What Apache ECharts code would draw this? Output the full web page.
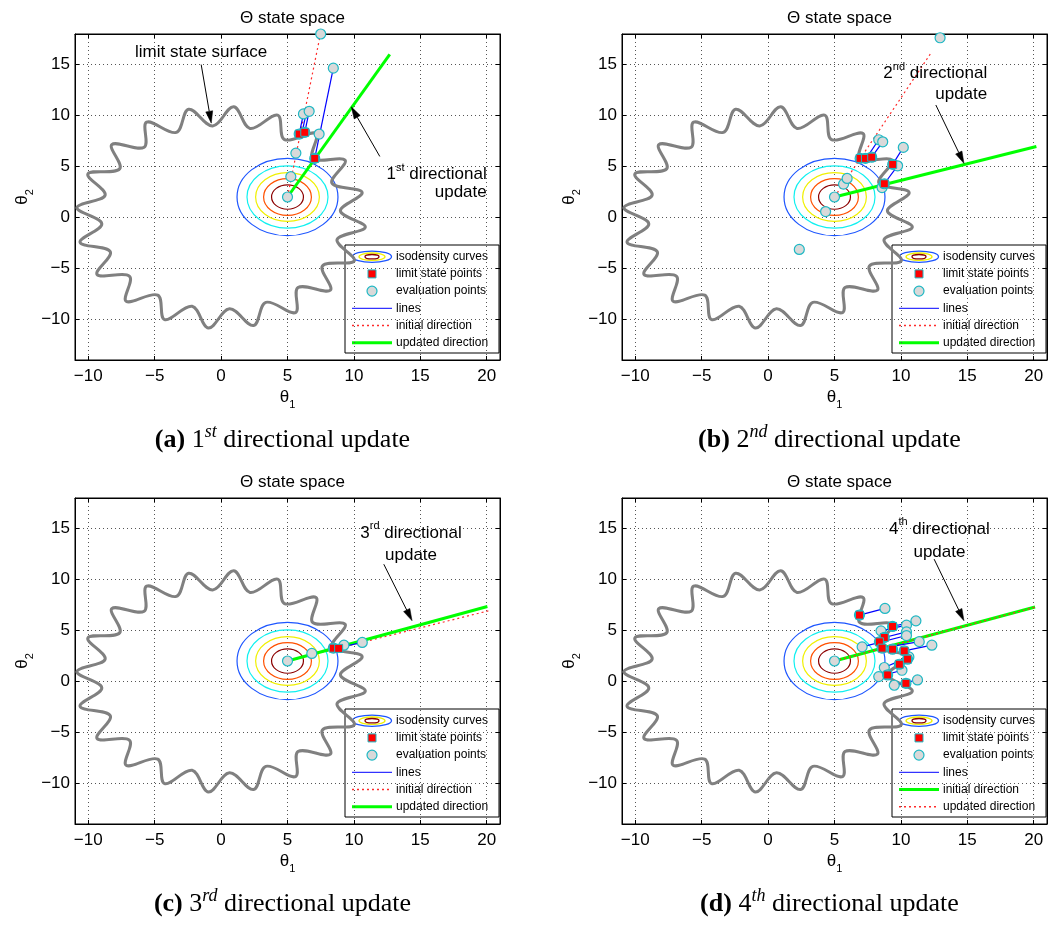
<!DOCTYPE html>
<html>
<head>
<meta charset="utf-8">
<title>Directional updates in the Θ state space</title>
<script src="https://cdn.jsdelivr.net/npm/echarts@6.0.0/dist/echarts.min.js"></script>
<style>
  html, body { margin: 0; padding: 0; background: #ffffff; }
  #chart { width: 1054px; height: 927px; }
</style>
</head>
<body>
<div id="chart"></div>
<script>
// ---------------- data ----------------
const X_RANGE = [-11, 21];
const Y_RANGE = [-14, 18];
const DENSITY_CENTER = [5, 2];
const ISO_RADII = [3.8, 3.05, 2.4, 1.8, 1.2];

// limit state surface: alternating trough / crest points of the wavy boundary
const SURFACE = [
  [8.98, 0.63], [10.62, 2.45], [8.34, 3.37], [9.34, 5.61], [6.89, 5.79],
  [7.15, 8.23], [4.77, 7.63], [4.26, 10.03], [2.18, 8.73], [0.95, 10.86],
  [-0.63, 8.98], [-2.45, 10.62], [-3.37, 8.34], [-5.61, 9.34], [-5.79, 6.89],
  [-8.23, 7.15], [-7.63, 4.77], [-10.03, 4.26], [-8.73, 2.18], [-10.86, 0.95],
  [-8.98, -0.63], [-10.62, -2.45], [-8.34, -3.37], [-9.34, -5.61], [-6.89, -5.79],
  [-7.15, -8.23], [-4.77, -7.63], [-4.26, -10.03], [-2.18, -8.73], [-0.95, -10.86],
  [0.63, -8.98], [2.45, -10.62], [3.37, -8.34], [5.61, -9.34], [5.79, -6.89],
  [8.23, -7.15], [7.63, -4.77], [10.03, -4.26], [8.73, -2.18], [10.86, -0.95]
];

// (a) 1st directional update
const EVAL_A = [[5, 2], [5.25, 4.0], [5.63, 6.31], [7.05, 5.79], [5.88, 8.18], [6.3, 8.35],
  [7.38, 8.18], [6.2, 10.15], [6.63, 10.41], [8.45, 14.65], [7.5, 18.0]];
const LIMIT_A = [[5.88, 8.18], [6.3, 8.35], [7.05, 5.79]];
const LINES_A = [[[6.2, 10.15], [5.88, 8.18]], [[6.42, 10.3], [6.08, 8.25]],
  [[6.63, 10.41], [6.3, 8.35]], [[8.45, 14.65], [7.05, 5.79]]];
const INIT_A = [[5, 2], [7.45, 17.8]];
const UPD_A = [[5, 2], [12.7, 16.0]];
const ARROWS_A = [[[-1.5, 15.0], [-0.74, 9.25]], [[11.95, 5.98], [9.8, 10.85]]];
const TEXT_A = [[-1.5, 16.2, '{n|limit state surface}', 'center'],
  [20.0, 4.24, '{n|1}{s|st}{n| directional}', 'right'],
  [20.0, 2.47, '{n|update}', 'right']];

// (b) 2nd directional update
const EVAL_B = [[5, 2], [4.33, 0.57], [2.35, -3.15], [5.68, 3.26], [5.95, 3.82], [8.58, 2.93],
  [8.75, 3.3], [9.38, 5.2], [9.75, 5.06], [10.18, 6.87], [6.93, 5.79], [7.33, 5.79],
  [7.8, 5.91], [8.33, 7.62], [8.63, 7.42], [12.95, 17.63]];
const LIMIT_B = [[6.93, 5.79], [7.33, 5.79], [7.8, 5.91], [9.38, 5.2], [8.75, 3.3]];
const LINES_B = [[[8.33, 7.62], [7.4, 5.82]], [[8.63, 7.42], [7.8, 5.91]],
  [[10.18, 6.87], [9.38, 5.2]], [[9.75, 5.06], [8.75, 3.3]]];
const INIT_B = [[5, 2], [12.3, 16.2]];
const UPD_B = [[5, 2], [20.2, 6.95]];
const ARROWS_B = [[[12.63, 11.03], [14.75, 5.3]]];
const TEXT_B = [[16.5, 14.15, '{n|2}{s|nd}{n| directional}', 'right'],
  [16.5, 12.1, '{n|update}', 'right']];

// (c) 3rd directional update
const EVAL_C = [[5, 2], [6.83, 2.74], [8.45, 3.26], [9.25, 3.55], [10.63, 3.82]];
const LIMIT_C = [[8.45, 3.26], [8.85, 3.24]];
const LINES_C = [[[8.85, 3.3], [10.63, 3.82]]];
const INIT_C = [[5, 2], [20.2, 6.95]];
const UPD_C = [[5, 2], [20.05, 7.35]];
const ARROWS_C = [[[12.25, 11.5], [14.38, 5.95]]];
const TEXT_C = [[14.3, 14.58, '{n|3}{s|rd}{n| directional}', 'center'],
  [14.3, 12.41, '{n|update}', 'center']];

// (d) 4th directional update
const LIMIT_D = [[6.88, 6.51], [9.37, 5.39], [8.75, 4.31], [8.38, 3.88], [8.58, 3.26],
  [9.37, 3.16], [10.25, 2.99], [10.5, 2.18], [9.88, 1.68], [9.0, 0.63], [10.38, -0.19]];
const LINES_D = [
  [[6.88, 6.51], [8.8, 7.16]], [[9.37, 5.39], [11.13, 5.94]], [[8.5, 4.96], [10.42, 5.52]],
  [[8.75, 4.31], [10.42, 4.86]], [[7.08, 3.39], [10.42, 4.5]], [[8.58, 3.26], [11.38, 3.9]],
  [[10.25, 2.99], [12.33, 3.55]], [[8.75, 1.36], [10.6, 2.4]], [[8.33, 0.47], [10.08, 1.09]],
  [[9.5, -0.38], [11.25, 0.14]]];
const EVAL_D = [[5, 2], [8.8, 7.16], [11.13, 5.94], [8.5, 4.96], [10.42, 5.52], [10.42, 4.86],
  [7.08, 3.39], [10.42, 4.5], [11.38, 3.9], [12.33, 3.55], [8.75, 1.36], [10.6, 2.4],
  [8.33, 0.47], [10.08, 1.09], [9.5, -0.38], [11.25, 0.14],
  [6.88, 6.51], [9.37, 5.39], [8.75, 4.31], [8.38, 3.88], [8.58, 3.26], [9.37, 3.16],
  [10.25, 2.99], [10.5, 2.18], [9.88, 1.68], [9.0, 0.63], [10.38, -0.19]];
const INIT_D = [[5, 2], [20.1, 7.3]];
const UPD_D = [[5, 2], [20.1, 7.28]];
const ARROWS_D = [[[12.5, 12.0], [14.75, 5.95]]];
const TEXT_D = [[12.9, 14.97, '{n|4}{s|th}{n| directional}', 'center'],
  [12.9, 12.7, '{n|update}', 'center']];

const CAPTIONS = [['(a)', '1', 'st'], ['(b)', '2', 'nd'], ['(c)', '3', 'rd'], ['(d)', '4', 'th']];

// ---------------- styling / layout ----------------
const SANS = "'Liberation Sans', Arial, Helvetica, sans-serif";
const SERIF = "'Liberation Serif', 'DejaVu Serif', serif";
const ISO_COLORS = ['#1c55ff', '#10f0f0', '#f0f000', '#ff5000', '#8c0000'];
const C_GREEN = '#00ff00', C_RED = '#ff2a2a', C_BLUE = '#0000ff';
const C_EDGE = '#1eb8c4', C_EVAL = '#d9d9d9';
const GRID_W = 425, GRID_H = 326;
const GRID_POS = [[75, 34], [622, 34], [75, 498], [622, 498]];

const DIR_STYLE = {
  red: { color: C_RED, width: 1.2, type: [2, 3] },
  green: { color: C_GREEN, width: 3, type: 'solid' }
};

const PANELS = [
  { evals: EVAL_A, limits: LIMIT_A, lines: LINES_A, dirs: [[INIT_A, 'red'], [UPD_A, 'green']], arrows: ARROWS_A, texts: TEXT_A, swap: false },
  { evals: EVAL_B, limits: LIMIT_B, lines: LINES_B, dirs: [[INIT_B, 'red'], [UPD_B, 'green']], arrows: ARROWS_B, texts: TEXT_B, swap: false },
  { evals: EVAL_C, limits: LIMIT_C, lines: LINES_C, dirs: [[INIT_C, 'red'], [UPD_C, 'green']], arrows: ARROWS_C, texts: TEXT_C, swap: false },
  { evals: EVAL_D, limits: LIMIT_D, lines: LINES_D, dirs: [[INIT_D, 'green'], [UPD_D, 'red']], arrows: ARROWS_D, texts: TEXT_D, swap: true }
];

const ANNO_RICH = {
  n: { fontFamily: SANS, fontSize: 17, color: '#000', lineHeight: 24 },
  s: { fontFamily: SANS, fontSize: 11, color: '#000', lineHeight: 12, verticalAlign: 'top' }
};
const NAME_RICH = {
  t: { fontFamily: SANS, fontSize: 17, color: '#000', lineHeight: 26 },
  s: { fontFamily: SANS, fontSize: 11, color: '#000', lineHeight: 12, verticalAlign: 'bottom' }
};
const CAPTION_RICH = {
  b: { fontFamily: SERIF, fontWeight: 'bold', fontSize: 26, lineHeight: 34, color: '#000' },
  r: { fontFamily: SERIF, fontWeight: 'normal', fontSize: 26, lineHeight: 34, color: '#000' },
  i: { fontFamily: SERIF, fontWeight: 'normal', fontStyle: 'italic', fontSize: 18, lineHeight: 18, color: '#000', verticalAlign: 'top' }
};

function tickText(v) {
  return v % 5 === 0 ? String(v).replace('-', '\u2212') : '';
}

// ---------------- axes ----------------
const grids = [], xAxes = [], yAxes = [], titles = [], graphics = [];
GRID_POS.forEach(([gx, gy], i) => {
  grids.push({ left: gx, top: gy, width: GRID_W, height: GRID_H, show: true,
    borderColor: '#000', borderWidth: 1, backgroundColor: 'transparent' });
  const tick = { show: true, inside: true, length: 4, lineStyle: { color: '#000', width: 1 } };
  const line = { show: true, onZero: false, lineStyle: { color: '#000', width: 1 } };
  const split = { show: true, lineStyle: { color: '#555', width: 1, type: [1, 3] } };
  const label = { show: true, fontFamily: SANS, fontSize: 17, color: '#000', formatter: tickText };
  xAxes.push({ gridIndex: i, type: 'value', min: X_RANGE[0], max: X_RANGE[1], position: 'bottom',
    axisLine: line, axisTick: tick, splitLine: split,
    axisLabel: Object.assign({ margin: 8 }, label),
    name: '{t|θ}{s|1}', nameLocation: 'middle', nameGap: 24, nameTextStyle: { rich: NAME_RICH } });
  xAxes.push({ gridIndex: i, type: 'value', min: X_RANGE[0], max: X_RANGE[1], position: 'top',
    axisLine: line, axisTick: tick, splitLine: { show: false }, axisLabel: { show: false } });
  yAxes.push({ gridIndex: i, type: 'value', min: Y_RANGE[0], max: Y_RANGE[1], position: 'left',
    axisLine: line, axisTick: tick, splitLine: split,
    axisLabel: Object.assign({ margin: 5 }, label),
    name: '{t|θ}{s|2}', nameLocation: 'middle', nameGap: 40, nameTextStyle: { rich: NAME_RICH } });
  yAxes.push({ gridIndex: i, type: 'value', min: Y_RANGE[0], max: Y_RANGE[1], position: 'right',
    axisLine: line, axisTick: tick, splitLine: { show: false }, axisLabel: { show: false } });

  titles.push({ text: 'Θ state space', left: gx + GRID_W / 2, top: gy - 29, textAlign: 'center',
    textStyle: { fontFamily: SANS, fontSize: 17, fontWeight: 'normal', color: '#000' } });
  const c = CAPTIONS[i];
  titles.push({ text: `{b|${c[0]}} {r|${c[1]}}{i|${c[2]}}{r| directional update}`,
    left: gx + GRID_W / 2 - 10, top: gy + 384, textAlign: 'center',
    textStyle: { fontFamily: SERIF, fontSize: 26, fontWeight: 'normal', color: '#000', rich: CAPTION_RICH } });

  graphics.push(legendGroup(gx, gy, PANELS[i].swap));
});

// ---------------- legend boxes ----------------
function legendGroup(gx, gy, swap) {
  const rows = [['isodensity curves', 'iso'], ['limit state points', 'sq'], ['evaluation points', 'circ'],
    ['lines', 'blue'], ['initial direction', swap ? 'green' : 'red'], ['updated direction', swap ? 'red' : 'green']];
  const W = 154, H = 108;
  const children = [{ type: 'rect', shape: { x: 0, y: 0, width: W, height: H },
    style: { fill: '#fff', stroke: '#000', lineWidth: 1 } }];
  rows.forEach(([txt, kind], k) => {
    const cy = 11.7 + 17.2 * k, cx = 27;
    if (kind === 'iso') {
      [[19.5, 5.6, ISO_COLORS[0]], [13, 3.7, ISO_COLORS[2]], [7, 2.2, ISO_COLORS[4]]].forEach(([rx, ry, col]) => {
        children.push({ type: 'ellipse', shape: { cx, cy, rx, ry }, style: { fill: 'none', stroke: col, lineWidth: 1.3 } });
      });
    } else if (kind === 'sq') {
      children.push({ type: 'rect', shape: { x: cx - 4, y: cy - 4, width: 8, height: 8 },
        style: { fill: '#ff0000', stroke: C_EDGE, lineWidth: 1 } });
    } else if (kind === 'circ') {
      children.push({ type: 'circle', shape: { cx, cy, r: 5 },
        style: { fill: C_EVAL, stroke: C_EDGE, lineWidth: 1.2 } });
    } else {
      const st = kind === 'blue' ? { stroke: C_BLUE, lineWidth: 1 }
        : kind === 'green' ? { stroke: C_GREEN, lineWidth: 3 }
        : { stroke: C_RED, lineWidth: 1.5, lineDash: [2, 3] };
      children.push({ type: 'line', shape: { x1: cx - 20, y1: cy, x2: cx + 20, y2: cy }, style: st });
    }
    children.push({ type: 'text', x: 51, y: cy,
      style: { text: txt, font: `12px ${SANS}`, fill: '#000', textVerticalAlign: 'middle', verticalAlign: 'middle' } });
  });
  return { type: 'group', x: gx + GRID_W - 1 - W, y: gy + GRID_H - 7 - H, z: 100, children };
}

// ---------------- series ----------------
const series = [];
PANELS.forEach((p, i) => {
  const ax = { xAxisIndex: 2 * i, yAxisIndex: 2 * i, silent: true, animation: false };

  // isodensity curves of the sampling density
  series.push(Object.assign({}, ax, {
    type: 'custom', z: 1, clip: true,
    data: ISO_RADII.map(r => [DENSITY_CENTER[0], DENSITY_CENTER[1], r]),
    renderItem: (params, api) => {
      const c = api.coord([api.value(0), api.value(1)]);
      const s = api.size([api.value(2), api.value(2)]);
      return { type: 'ellipse', shape: { cx: c[0], cy: c[1], rx: s[0], ry: s[1] },
        style: { fill: 'none', stroke: ISO_COLORS[params.dataIndex], lineWidth: 1.2 } };
    }
  }));

  // limit state surface as a closed smooth curve
  series.push(Object.assign({}, ax, {
    type: 'custom', z: 2, clip: true, data: SURFACE,
    renderItem: (params, api) => {
      if (params.dataIndex !== 0) return null;
      return { type: 'polygon', shape: { points: SURFACE.map(pt => api.coord(pt)), smooth: 0.36 },
        style: { fill: 'none', stroke: '#808080', lineWidth: 3 } };
    }
  }));

  // initial / updated directions
  p.dirs.forEach(([pts, kind]) => {
    series.push(Object.assign({}, ax, {
      type: 'line', z: 3, data: pts, symbol: 'none', lineStyle: DIR_STYLE[kind]
    }));
  });

  // line searches
  series.push(Object.assign({}, ax, {
    type: 'lines', coordinateSystem: 'cartesian2d', z: 4,
    data: p.lines.map(c => ({ coords: c })),
    lineStyle: { color: C_BLUE, width: 1.2, opacity: 1 }
  }));

  // evaluation points
  series.push(Object.assign({}, ax, {
    type: 'scatter', z: 5, data: p.evals, symbol: 'circle', symbolSize: 10,
    itemStyle: { color: C_EVAL, borderColor: C_EDGE, borderWidth: 1.2, opacity: 1 }
  }));

  // limit state points
  series.push(Object.assign({}, ax, {
    type: 'scatter', z: 6, data: p.limits, symbol: 'rect', symbolSize: 8,
    itemStyle: { color: '#ff0000', borderColor: C_EDGE, borderWidth: 1, opacity: 1 }
  }));

  // annotation arrows
  series.push(Object.assign({}, ax, {
    type: 'custom', z: 7, clip: false,
    data: p.arrows.map(a => [a[0][0], a[0][1], a[1][0], a[1][1]]),
    renderItem: (params, api) => {
      const a = api.coord([api.value(0), api.value(1)]);
      const b = api.coord([api.value(2), api.value(3)]);
      const dx = b[0] - a[0], dy = b[1] - a[1], L = Math.hypot(dx, dy);
      const ux = dx / L, uy = dy / L, hl = 12, hw = 3.5;
      const bx = b[0] - ux * hl, by = b[1] - uy * hl;
      return { type: 'group', children: [
        { type: 'line', shape: { x1: a[0], y1: a[1], x2: bx, y2: by }, style: { stroke: '#000', lineWidth: 1 } },
        { type: 'polygon', shape: { points: [[b[0], b[1]], [bx - uy * hw, by + ux * hw], [bx + uy * hw, by - ux * hw]] },
          style: { fill: '#000', stroke: '#000', lineWidth: 0.5 } }
      ] };
    }
  }));

  // annotation texts
  series.push(Object.assign({}, ax, {
    type: 'scatter', z: 8, symbolSize: 1, itemStyle: { color: 'rgba(0,0,0,0)', opacity: 1 },
    data: p.texts.map(t => ({ value: [t[0], t[1]],
      label: { show: true, position: 'inside', formatter: t[2], align: t[3], verticalAlign: 'middle',
        color: '#000', opacity: 1, rich: ANNO_RICH } }))
  }));
});

const chart = echarts.init(document.getElementById('chart'), null, { renderer: 'canvas' });
chart.setOption({
  animation: false,
  backgroundColor: '#ffffff',
  title: titles,
  grid: grids,
  xAxis: xAxes,
  yAxis: yAxes,
  graphic: graphics,
  series: series
});
</script>
</body>
</html>
